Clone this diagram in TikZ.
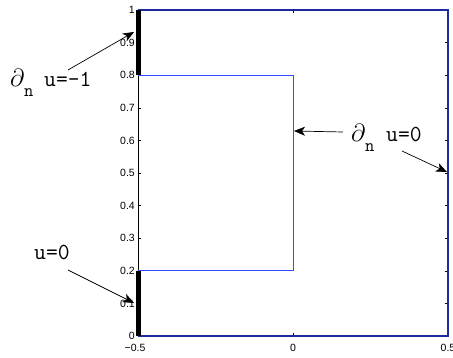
\documentclass[tikz,border=0pt]{standalone}
\usepackage{fontspec}
\setmainfont{Liberation Sans}
\newfontfamily\annotfont{Latin Modern Mono}
\usetikzlibrary{arrows.meta}
\definecolor{outerblue}{rgb}{0.12,0.16,0.62}
\definecolor{innerblue}{rgb}{0.2,0.3,1}
\tikzset{
  ticklab/.style={inner sep=0pt, font=\fontsize{10.5}{12}\selectfont},
  annot/.style={inner sep=0pt, anchor=base west, font=\annotfont\fontsize{23}{26}\selectfont},
  partialsym/.style={inner sep=0pt, anchor=base west, font=\fontsize{24}{28}\selectfont},
  subn/.style={inner sep=0pt, anchor=base west, font=\annotfont\fontsize{18}{20}\selectfont},
  pointer/.style={line width=0.7pt, -{Stealth[length=11pt,width=9pt,inset=3pt]}},
  tickmark/.style={line width=0.5pt},
}
\begin{document}
\begin{tikzpicture}[x=1pt,y=1pt]
\useasboundingbox (0,0) rectangle (453,358);
\begin{scope}[shift={(293pt,22pt)}, x=310pt, y=326pt]
  % axes box
  \draw[line width=0.6pt] (-0.5,0) rectangle (0.5,1);
  % ticks
  \foreach \v in {0,0.1,0.2,0.3,0.4,0.5,0.6,0.7,0.8,0.9,1}{
    \draw[tickmark] (-0.5,\v) -- ++(3pt,0);
    \draw[tickmark] (0.5,\v) -- ++(-3pt,0);
  }
  \foreach \u in {-0.5,0,0.5}{
    \draw[tickmark] (\u,0) -- ++(0,3pt);
    \draw[tickmark] (\u,1) -- ++(0,-3pt);
  }
  % tick labels
  \foreach \v/\t in {0/0,0.1/0.1,0.2/0.2,0.3/0.3,0.4/0.4,0.5/0.5,0.6/0.6,0.7/0.7,0.8/0.8,0.9/0.9,1/1}{
    \node[ticklab, anchor=east] (yl\t) at ([xshift=-3pt]-0.5,\v) {\t};
  }
  \node[ticklab] (xlm) at ([xshift=-3pt,yshift=-12pt]-0.5,0) {−0.5};
  \node[ticklab] (xlz) at ([yshift=-12pt]0,0) {0};
  \node[ticklab] (xlp) at ([yshift=-12pt]0.5,0) {0.5};
  % domain boundary
  \draw[line width=1.2pt, outerblue] (-0.5,1) -- (0.5,1) -- (0.5,0) -- (-0.5,0);
  \draw[line width=1pt, innerblue] (-0.5,0.8) -- (0,0.8) -- (0,0.2) -- (-0.5,0.2);
  \draw[line width=5pt, black] (-0.5,0.8) -- (-0.5,1);
  \draw[line width=5pt, black] (-0.5,0) -- (-0.5,0.2);
\end{scope}
% annotations
\node[partialsym] (dl) at (10,271) {$\partial$};
\node[subn] (nl) at (24,261) {n};
\node[annot] (ul) at (44,271) {u=-1};
\coordinate (al0) at (68,288);
\coordinate (al1) at (134,326);
\draw[pointer] (al0) -- (al1);

\node[annot] (ub) at (34,98) {u=0};
\coordinate (ab0) at (68,88);
\coordinate (ab1) at (134,55);
\draw[pointer] (ab0) -- (ab1);

\node[partialsym] (dr) at (351,216) {$\partial$};
\node[subn] (nr) at (365,206) {n};
\node[annot] (ur) at (386,216) {u=0};
\coordinate (ar0) at (343,226);
\coordinate (ar1) at (294,227);
\draw[pointer] (ar0) -- (ar1);
\coordinate (ar2) at (402,207);
\coordinate (ar3) at (447,186);
\draw[pointer] (ar2) -- (ar3);
\end{tikzpicture}
\end{document}
